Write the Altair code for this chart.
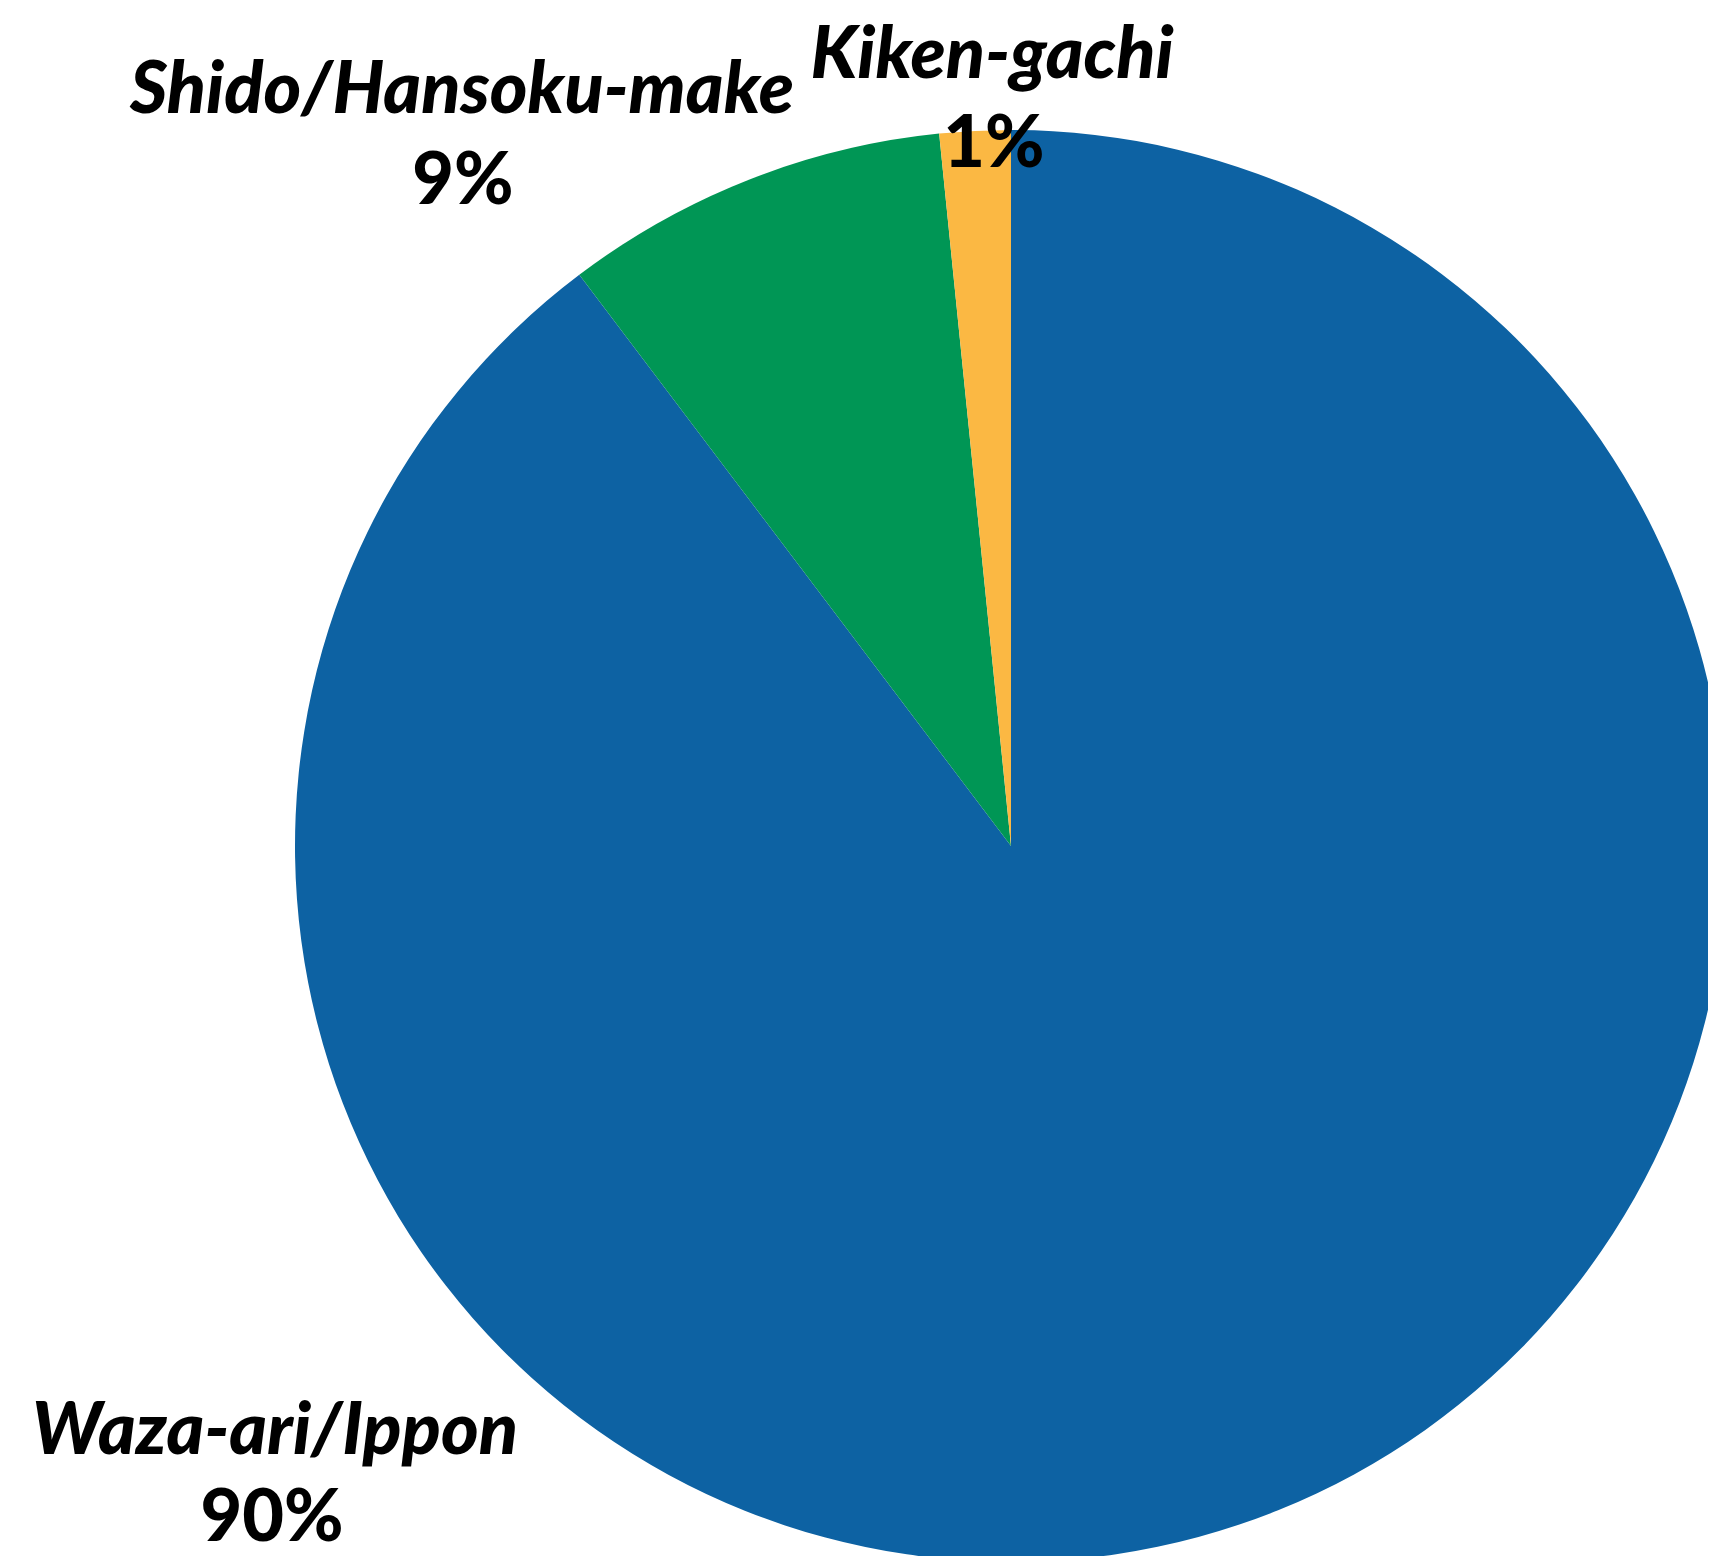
import altair as alt
import pandas as pd

# ---- data ----
categories = ["Waza-ari/Ippon", "Shido/Hansoku-make", "Kiken-gachi"]
shares = [89.7, 8.7, 1.6]
pct_labels = ["90%", "9%", "1%"]
slice_order = [0, 1, 2]
colors = ["#0D62A3", "#009655", "#FBB843"]

# ---- layout ----
W, H = 1700, 1548
CX, CY, R = 1003, 838, 716
# (x center, baseline y) for name line and percent line
name_pos = [(267, 1446), (454, 105), (984, 70)]
pct_pos = [(264, 1533), (455, 196), (986, 159)]
FONT = "Lato"
FS = 72

df = pd.DataFrame({"category": categories, "share": shares, "order": slice_order})

pie = alt.Chart(df).mark_arc(radius=R).encode(
    theta=alt.Theta("share:Q", stack=True),
    color=alt.Color("category:N",
                    scale=alt.Scale(domain=categories, range=colors),
                    legend=None),
    order=alt.Order("order:Q"),
    x=alt.value(CX),
    y=alt.value(CY),
)

layers = [pie]
for i in range(len(categories)):
    nd = pd.DataFrame({"t": [categories[i]]})
    layers.append(
        alt.Chart(nd).mark_text(font=FONT, fontSize=FS, fontWeight=900,
                                fontStyle="italic", align="center",
                                baseline="alphabetic", color="black")
        .encode(text="t:N", x=alt.value(name_pos[i][0]), y=alt.value(name_pos[i][1]))
    )
    pdf = pd.DataFrame({"t": [pct_labels[i]]})
    layers.append(
        alt.Chart(pdf).mark_text(font=FONT, fontSize=FS, fontWeight=900,
                                 align="center", baseline="alphabetic",
                                 color="black")
        .encode(text="t:N", x=alt.value(pct_pos[i][0]), y=alt.value(pct_pos[i][1]))
    )

chart = alt.layer(*layers).properties(
    width=W, height=H,
    autosize=alt.AutoSizeParams(type="none"),
    padding=0,
).configure_view(stroke=None)

chart.save("out.html", embed_options={"renderer": "svg", "actions": False})
